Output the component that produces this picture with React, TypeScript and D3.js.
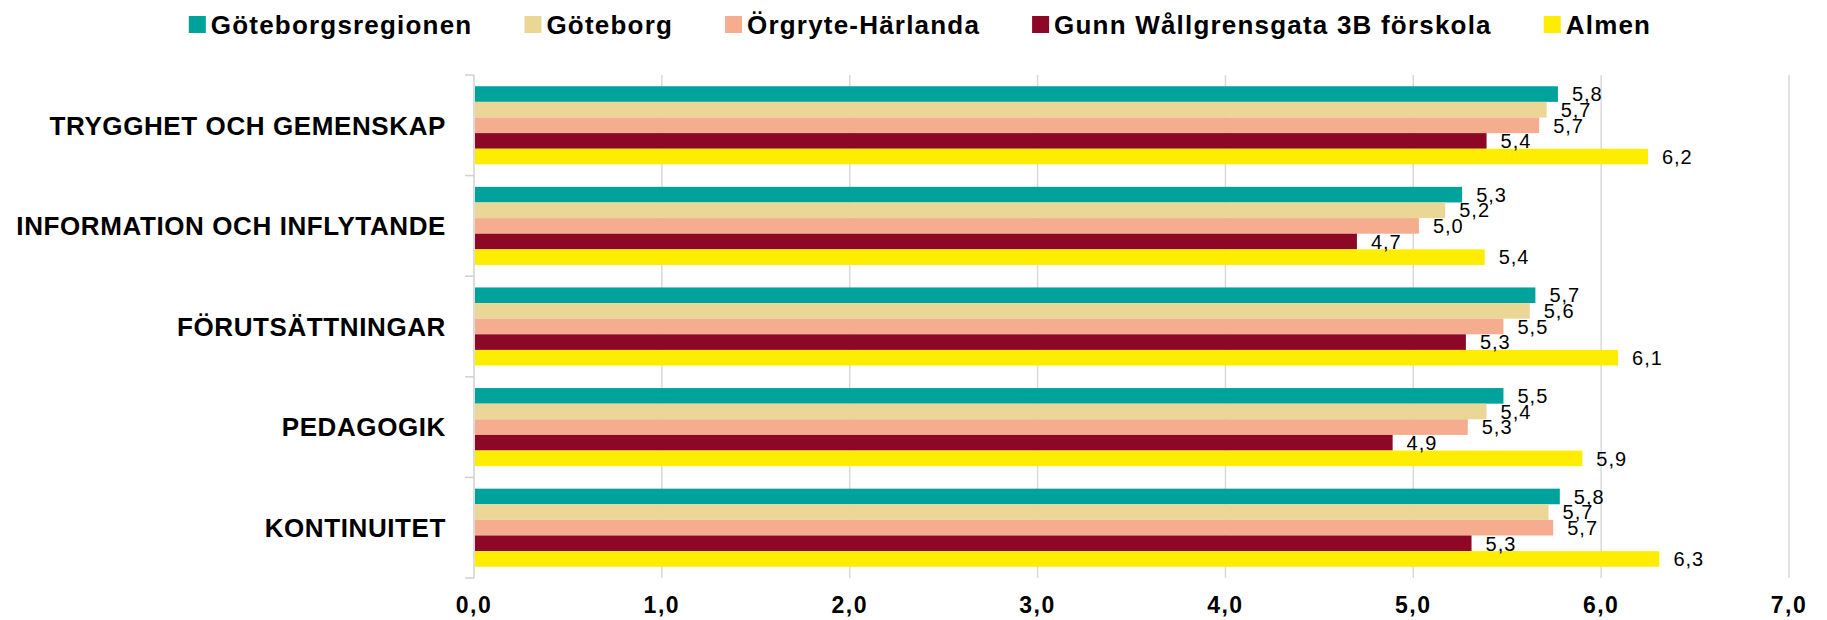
import * as d3 from 'd3';
import { useEffect, useRef } from 'react';

const categories = [
	'TRYGGHET OCH GEMENSKAP',
	'INFORMATION OCH INFLYTANDE',
	'FÖRUTSÄTTNINGAR',
	'PEDAGOGIK',
	'KONTINUITET',
];

const seriesNames = [
	'Göteborgsregionen',
	'Göteborg',
	'Örgryte-Härlanda',
	'Gunn Wållgrensgata 3B förskola',
	'Almen',
];

const goteborgsregionen = [5.77, 5.26, 5.65, 5.48, 5.78];
const goteborg = [5.71, 5.17, 5.62, 5.39, 5.72];
const orgryteHarlanda = [5.67, 5.03, 5.48, 5.29, 5.745];
const gunnWallgrensgata = [5.39, 4.7, 5.28, 4.89, 5.31];
const almen = [6.249, 5.38, 6.09, 5.9, 6.31];

const seriesValues = [goteborgsregionen, goteborg, orgryteHarlanda, gunnWallgrensgata, almen];
const colors = ['#00a39b', '#ebd795', '#f6ad8f', '#8c0826', '#ffed00'];
const xTicks = [0, 1, 2, 3, 4, 5, 6, 7];

const WIDTH = 1827;
const HEIGHT = 620;
const FONT = "'Liberation Sans', Arial, sans-serif";

const comma = (v: number, f: string) => d3.format(f)(v).replace('.', ',');

export default function App() {
	const chartRef = useRef<SVGSVGElement>(null);

	useEffect(() => {
		const svg = d3.select(chartRef.current);
		svg.selectAll('*').remove();

		const margin = { top: 75, bottom: 42, left: 474, right: 38 };
		const x = d3.scaleLinear().domain([0, 7]).range([margin.left, WIDTH - margin.right]);
		const y0 = d3.scaleBand().domain(categories).range([margin.top, HEIGHT - margin.bottom]);
		const y1 = d3
			.scaleBand()
			.domain(seriesNames)
			.range([0, y0.bandwidth()])
			.paddingOuter(0.72);

		// gridlines
		svg
			.append('g')
			.selectAll('line')
			.data(xTicks.slice(1))
			.join('line')
			.attr('x1', (d) => x(d))
			.attr('x2', (d) => x(d))
			.attr('y1', margin.top)
			.attr('y2', HEIGHT - margin.bottom)
			.attr('stroke', '#d9d9d9')
			.attr('stroke-width', 1.5);

		// category axis with tick marks between groups
		const axis = svg.append('g');
		axis
			.append('line')
			.attr('x1', x(0))
			.attr('x2', x(0))
			.attr('y1', margin.top)
			.attr('y2', HEIGHT - margin.bottom)
			.attr('stroke', '#d0d0d0')
			.attr('stroke-width', 1.5);
		const bounds = categories.map((c) => y0(c)!).concat([HEIGHT - margin.bottom]);
		axis
			.selectAll('.tick')
			.data(bounds)
			.join('line')
			.attr('x1', x(0) - 9)
			.attr('x2', x(0))
			.attr('y1', (d) => d)
			.attr('y2', (d) => d)
			.attr('stroke', '#d0d0d0')
			.attr('stroke-width', 1.5);

		axis
			.selectAll('text')
			.data(categories)
			.join('text')
			.attr('x', 446)
			.attr('y', (d) => y0(d)! + y0.bandwidth() / 2)
			.attr('dy', '0.36em')
			.attr('text-anchor', 'end')
			.style('font-family', FONT)
			.style('font-weight', 'bold')
			.style('font-size', '26px')
			.style('letter-spacing', '0.6px')
			.text((d) => d);

		// x tick labels
		svg
			.append('g')
			.selectAll('text')
			.data(xTicks)
			.join('text')
			.attr('x', (d) => x(d))
			.attr('y', 605)
			.attr('dy', '0.36em')
			.attr('text-anchor', 'middle')
			.style('font-family', FONT)
			.style('font-weight', 'bold')
			.style('font-size', '23px')
			.style('letter-spacing', '1.5px')
			.text((d) => comma(d, '.1f'));

		// bars
		const rows = categories.flatMap((c, i) =>
			seriesNames.map((s, j) => ({ cat: c, name: s, value: seriesValues[j][i], color: colors[j] }))
		);
		const bars = svg.append('g');
		bars
			.selectAll('rect')
			.data(rows)
			.join('rect')
			.attr('x', x(0) + 1)
			.attr('y', (d) => y0(d.cat)! + y1(d.name)!)
			.attr('width', (d) => x(d.value) - x(0) - 1)
			.attr('height', y1.bandwidth())
			.attr('fill', (d) => d.color);

		bars
			.selectAll('text')
			.data(rows)
			.join('text')
			.attr('x', (d) => x(d.value) + 14)
			.attr('y', (d) => y0(d.cat)! + y1(d.name)! + y1.bandwidth() / 2)
			.attr('dy', '0.36em')
			.style('font-family', FONT)
			.style('font-size', '20px')
			.style('letter-spacing', '1px')
			.text((d) => comma(d.value, '.1f'));

		// legend, laid out by measured text widths
		const legend = svg.append('g');
		let cursor = 0;
		seriesNames.forEach((name, i) => {
			const item = legend.append('g').attr('transform', `translate(${cursor},0)`);
			item
				.append('rect')
				.attr('x', 0)
				.attr('y', 16)
				.attr('width', 17)
				.attr('height', 17)
				.attr('fill', colors[i]);
			const t = item
				.append('text')
				.attr('x', 22)
				.attr('y', 25)
				.attr('dy', '0.36em')
				.style('font-family', FONT)
				.style('font-weight', 'bold')
				.style('font-size', '26px')
				.style('letter-spacing', '1.2px')
				.text(name);
			const w = (t.node() as SVGTextElement).getComputedTextLength();
			cursor += 22 + w + 52;
		});
		const legendWidth = cursor - 52;
		legend.attr('transform', `translate(${920 - legendWidth / 2},0)`);
	}, []);

	return (
		<svg
			ref={chartRef}
			width={WIDTH}
			height={HEIGHT}
			style={{ position: 'absolute', left: 0, top: 0, background: '#fff' }}
		></svg>
	);
}
